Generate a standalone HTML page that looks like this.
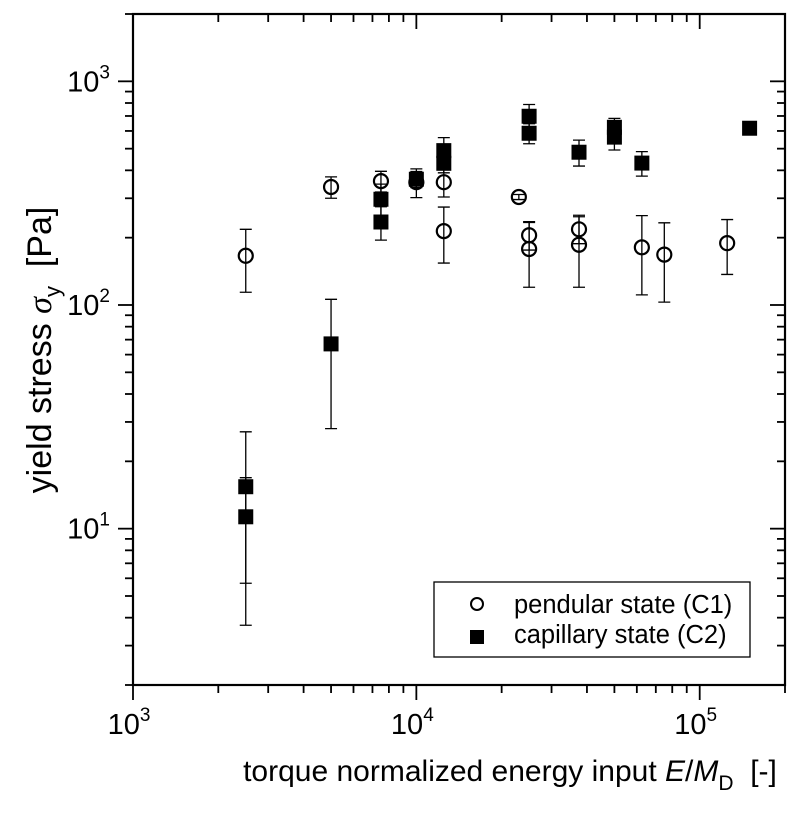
<!DOCTYPE html>
<html><head><meta charset="utf-8">
<style>
html,body{margin:0;padding:0;background:#fff;}
svg{display:block;font-family:"Liberation Sans",Arial,sans-serif;}
</style></head>
<body>
<svg id="chart" width="800" height="813" viewBox="0 0 800 813">
  <g id="axes"></g>
  <g id="marks"></g>
  <text x="510" y="781" font-size="30" text-anchor="middle">torque normalized energy input <tspan font-style="italic">E</tspan>/<tspan font-style="italic">M</tspan><tspan font-size="21" dy="9">D</tspan><tspan dy="-9">&#160;&#160;[-]</tspan></text>
  <text transform="translate(51,350) rotate(-90)" font-size="34" text-anchor="middle">yield stress <tspan font-style="italic" font-family="'Liberation Serif',serif">σ</tspan><tspan font-size="22" dy="9">y</tspan><tspan dy="-9">&#160;&#160;[Pa]</tspan></text>
  <g>
    <rect x="434" y="582" width="316" height="75" fill="#fff" stroke="#000" stroke-width="1.3"/>
    <circle cx="477" cy="604" r="6" fill="none" stroke="#000" stroke-width="2"/>
    <text x="514" y="613" font-size="25.5">pendular state (C1)</text>
    <rect x="470" y="630" width="14" height="14" fill="#000"/>
    <text x="514" y="643" font-size="25.5">capillary state (C2)</text>
  </g>
</svg>
<script>
const c1X = [2500,5000,7500,10000,12500,12500,23000,25000,25000,37500,37500,62500,75000,125000];
const c1Y = [166,337,358,354,354,214,304,205,178,218,186,181,168,189];
const c1Err = [52,37,38,52,50,60,8,29,58,30,66,70,65,52];
const c2X = [2500,2500,5000,7500,7500,10000,12500,12500,25000,25000,37500,50000,50000,62500,150000];
const c2Y = [15.4,11.3,67,297,235,365,490,430,698,586,482,623,563,431,617];
const c2Err = [11.7,5.6,39,50,40,30,70,40,90,60,64,60,70,54,0];
const xTickLabels = ["3","4","5"];
const yTickLabels = ["1","2","3"];

const L=133,R=785,T=14,B=685;
const xmin=3,xmax=Math.log10(2e5),ymin=Math.log10(2),ymax=Math.log10(2000);
function xs(v){return L+(Math.log10(v)-xmin)/(xmax-xmin)*(R-L);}
function ys(v){return B-(Math.log10(v)-ymin)/(ymax-ymin)*(B-T);}
const NS="http://www.w3.org/2000/svg";
function mk(tag,attrs,parent){const e=document.createElementNS(NS,tag);for(const k in attrs)e.setAttribute(k,attrs[k]);parent.appendChild(e);return e;}
const axes=document.getElementById('axes'), marks=document.getElementById('marks');
const frame=mk('rect',{x:L,y:T,width:R-L,height:B-T,fill:'none',stroke:'#000','stroke-width':2.2},axes);


for(let d=3;d<=5;d++){for(let m=1;m<=9;m++){const v=m*Math.pow(10,d);if(v>2e5)break;const x=xs(v);const len=m===1?15:8;
 const t1=mk('line',{x1:x,y1:B,x2:x,y2:B+len,stroke:'#000','stroke-width':1.8},axes);
 
 
 const t2=mk('line',{x1:x,y1:T,x2:x,y2:T+len,stroke:'#000','stroke-width':1.8},axes);
 
 }}
xTickLabels.forEach(function(p){const x=xs(Math.pow(10,+p));const t=mk('text',{x:x-4,y:734,'font-size':29,'text-anchor':'middle'},axes);t.innerHTML='10<tspan font-size="19" dy="-13">'+p+'</tspan>';
 
 });
for(let d=0;d<=3;d++){for(let m=1;m<=9;m++){const v=m*Math.pow(10,d);if(v<2||v>2000)continue;const y=ys(v);const len=m===1?15:8;
 const t1=mk('line',{x1:L,y1:y,x2:L-len,y2:y,stroke:'#000','stroke-width':1.8},axes);
 
 
 const t2=mk('line',{x1:R,y1:y,x2:R-len,y2:y,stroke:'#000','stroke-width':1.8},axes);
 
 }}
yTickLabels.forEach(function(p){const y=ys(Math.pow(10,+p));const t=mk('text',{x:110,y:y+10,'font-size':29,'text-anchor':'end'},axes);t.innerHTML='10<tspan font-size="19" dy="-13">'+p+'</tspan>';
 
 });
function errbar(x,v,e){if(!e)return;const y1=ys(v+e),y2=ys(Math.max(v-e,0.1));
 const g=mk('path',{d:'M'+x+' '+y1+'V'+y2+'M'+(x-6)+' '+y1+'H'+(x+6)+'M'+(x-6)+' '+y2+'H'+(x+6),stroke:'#000','stroke-width':1.3,fill:'none'},marks);
 
 }
c2X.forEach(function(xv,i){const x=xs(xv),y=ys(c2Y[i]);errbar(x,c2Y[i],c2Err[i]);
 const r=mk('rect',{x:x-7.5,y:y-7.5,width:15,height:15,fill:'#000'},marks);
 
 });
c1X.forEach(function(xv,i){const x=xs(xv),y=ys(c1Y[i]);errbar(x,c1Y[i],c1Err[i]);
 const c=mk('circle',{cx:x,cy:y,r:7,fill:'#fff','fill-opacity':0,stroke:'#000','stroke-width':2.2},marks);
 
 });
</script>
</body></html>
